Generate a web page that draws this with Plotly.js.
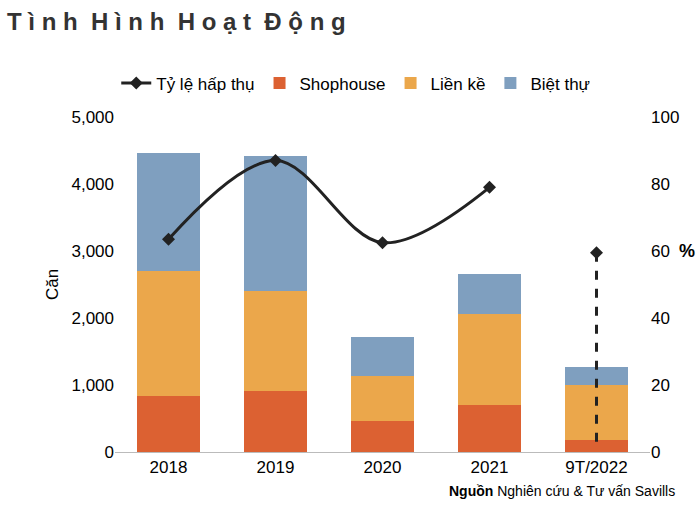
<!DOCTYPE html>
<html><head><meta charset="utf-8">
<script src="https://cdn.plot.ly/plotly-3.0.1.min.js"></script>
<style>body{margin:0}#chart{width:700px;height:515px}</style>
</head><body><div id="chart"></div>
<script>
var years = ['2018', '2019', '2020', '2021', '9T/2022']
var bietThu = [1770, 2020, 580, 590, 270]
var lienKe = [1860, 1490, 660, 1360, 820]
var shophouse = [840, 910, 470, 700, 180]
var tyLe = [63.5, 87, 62.5, 79, 59.5]
var tyLe2022End = 2

var font = {family: 'Liberation Sans, Arial', size: 17, color: '#000'}

var traces = [
  {x: years, y: shophouse, type: 'bar', name: 'Shophouse', legendrank: 3, marker: {color: '#DC6132'}},
  {x: years, y: lienKe, type: 'bar', name: 'Liền kề', legendrank: 2, marker: {color: '#EBA74B'}},
  {x: years, y: bietThu, type: 'bar', name: 'Biệt thự', legendrank: 1, marker: {color: '#7F9FBF'}},
  {x: years.slice(0, 4), y: tyLe.slice(0, 4), type: 'scatter', mode: 'lines+markers', name: 'Tỷ lệ hấp thụ',
    legendrank: 4, yaxis: 'y2', line: {color: '#222', width: 3, shape: 'spline'},
    marker: {symbol: 'diamond', size: 10, color: '#222'}},
  {x: [years[4], years[4]], y: [tyLe[4], tyLe2022End], type: 'scatter', mode: 'lines', yaxis: 'y2',
    showlegend: false, line: {color: '#222', width: 3, dash: 'dash'}},
  {x: [years[4]], y: [tyLe[4]], type: 'scatter', mode: 'markers', yaxis: 'y2', showlegend: false,
    marker: {symbol: 'diamond', size: 10, color: '#222'}}
]

var layout = {
  width: 700, height: 515,
  margin: {l: 115, r: 50, t: 117, b: 63},
  barmode: 'stack', bargap: 0.42,
  font: font,
  showlegend: true,
  legend: {orientation: 'h', x: 0.45, xanchor: 'center', y: 1.1, yanchor: 'middle',
    font: {family: 'Liberation Sans, Arial', size: 17}},
  xaxis: {type: 'category', showline: true, linecolor: '#bbb', ticks: '', tickfont: font},
  yaxis: {range: [0, 5000], dtick: 1000, tickformat: ',d', showgrid: false, zeroline: false,
    title: {text: 'Căn', font: font, standoff: 8}, tickfont: font},
  yaxis2: {range: [0, 100], dtick: 20, overlaying: 'y', side: 'right', showgrid: false, zeroline: false, tickfont: font},
  annotations: [
    {text: '<b>T ì n h  H ì n h  H o ạ t  Đ ộ n g</b>', xref: 'paper', yref: 'paper', x: -0.205, y: 1.33,
      xanchor: 'left', yanchor: 'top', showarrow: false,
      font: {family: 'Liberation Sans, Arial', size: 24, color: '#333'}},
    {text: '<b>%</b>', xref: 'paper', yref: 'paper', x: 1.05, y: 0.6, xanchor: 'left', showarrow: false,
      font: {family: 'Liberation Sans, Arial', size: 18, color: '#000'}},
    {text: '<b>Nguồn</b> Nghiên cứu & Tư vấn Savills', xref: 'paper', yref: 'paper', x: 1.05, y: -0.145,
      xanchor: 'right', showarrow: false, font: {family: 'Liberation Sans, Arial', size: 14, color: '#000'}}
  ]
}

Plotly.newPlot('chart', traces, layout, {displayModeBar: false})
</script></body></html>
